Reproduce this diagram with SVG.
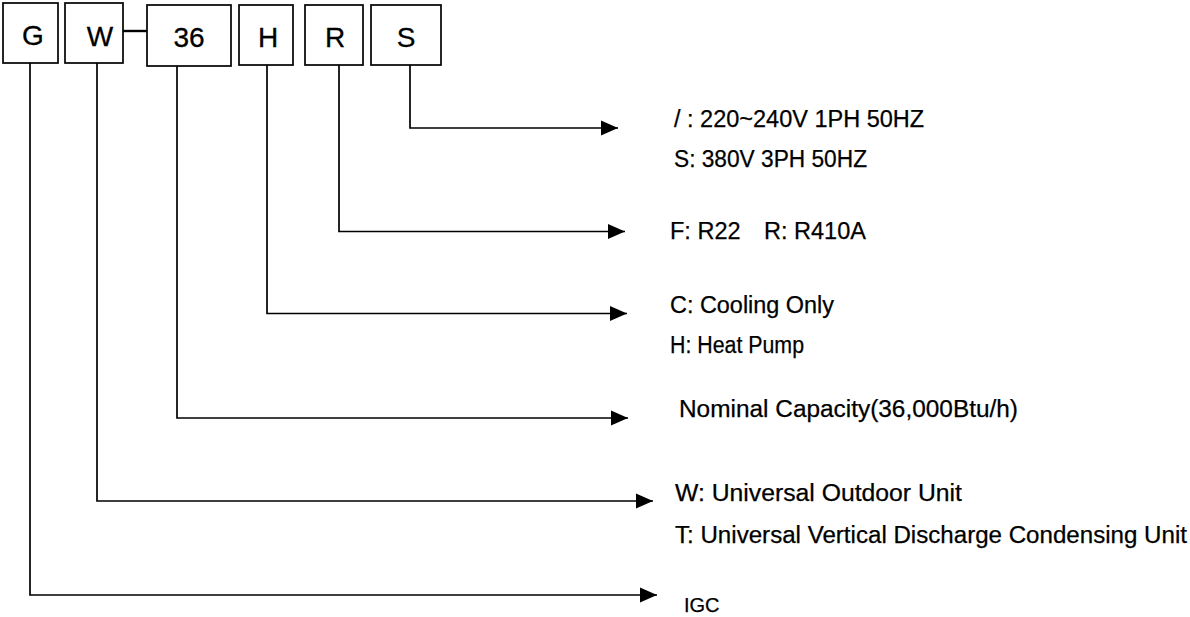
<svg xmlns="http://www.w3.org/2000/svg" width="1190" height="617" viewBox="0 0 1190 617">
<style>
.box{fill:#fff;stroke:#000;stroke-width:1.7}
.bt{font-family:"Liberation Sans",Arial,sans-serif;font-size:28px;fill:#000;stroke:#000;stroke-width:0.3;text-anchor:middle}
.lb{font-family:"Liberation Sans",Arial,sans-serif;font-size:23.5px;fill:#000;stroke:#000;stroke-width:0.25}
.ln{fill:none;stroke:#000;stroke-width:1.7;marker-end:url(#ah)}
</style>
<defs>
<marker id="ah" markerUnits="userSpaceOnUse" markerWidth="17" markerHeight="16" refX="17" refY="8" orient="auto">
<path d="M0,0.5 L17,8 L0,15.5 Z" fill="#000"/>
</marker>
</defs>
<g id="node-G"><rect class="box" x="3" y="3" width="55" height="60"/><text class="bt" x="33" y="45">G</text></g>
<g id="node-W"><rect class="box" x="65" y="3" width="58" height="60"/><text class="bt" x="100" y="46">W</text></g>
<g id="node-36"><rect class="box" x="147" y="5" width="84" height="61"/><text class="bt" x="189" y="47">36</text></g>
<g id="node-H"><rect class="box" x="239" y="5" width="54" height="60"/><text class="bt" x="268" y="47">H</text></g>
<g id="node-R"><rect class="box" x="305" y="5" width="58" height="60"/><text class="bt" x="335" y="47">R</text></g>
<g id="node-S"><rect class="box" x="371" y="5" width="70" height="60"/><text class="bt" x="406" y="47">S</text></g>
<g id="connectors">
<line x1="123" y1="31" x2="147" y2="31" stroke="#000" stroke-width="2.4"/>
<path class="ln" d="M410,65 V128 H618"/>
<path class="ln" d="M339,65 V231.5 H625"/>
<path class="ln" d="M267,65 V313.5 H627"/>
<path class="ln" d="M177,66 V418 H628"/>
<path class="ln" d="M97,63 V501 H653"/>
<path class="ln" d="M30,63 V595 H657"/>
</g>
<g id="labels">
<text class="lb" x="674" y="127">/ : 220~240V 1PH 50HZ</text>
<text class="lb" x="674" y="167" textLength="193" lengthAdjust="spacingAndGlyphs">S: 380V 3PH 50HZ</text>
<text class="lb" x="670" y="239">F: R22</text>
<text class="lb" x="764" y="239">R: R410A</text>
<text class="lb" x="670" y="313" textLength="164" lengthAdjust="spacingAndGlyphs">C: Cooling Only</text>
<text class="lb" x="670" y="353" textLength="134" lengthAdjust="spacingAndGlyphs">H: Heat Pump</text>
<text class="lb" x="679" y="417" textLength="339" lengthAdjust="spacingAndGlyphs">Nominal Capacity(36,000Btu/h)</text>
<text class="lb" x="675" y="501" textLength="287" lengthAdjust="spacingAndGlyphs">W: Universal Outdoor Unit</text>
<text class="lb" x="675" y="543" textLength="512" lengthAdjust="spacingAndGlyphs">T: Universal Vertical Discharge Condensing Unit</text>
<text class="lb" x="684" y="612" style="font-size:20px">IGC</text>
</g>
</svg>
